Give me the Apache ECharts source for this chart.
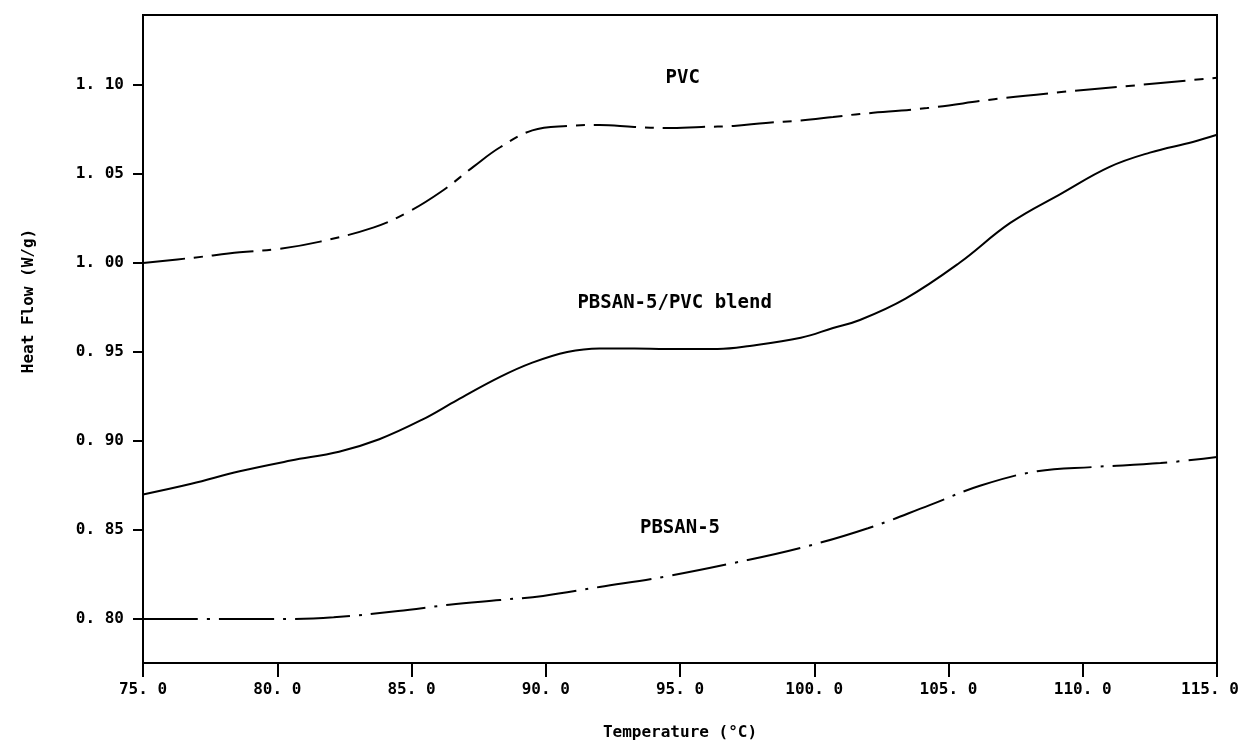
<!DOCTYPE html>
<html>
<head>
<meta charset="utf-8">
<script src="https://cdn.jsdelivr.net/npm/echarts@6/dist/echarts.min.js"></script>
<style>
  html, body { margin: 0; padding: 0; background: #fff; }
  #chart { width: 1242px; height: 743px; }
</style>
</head>
<body>
<div id="chart"></div>
<script>
// DSC traces, temperature in degC, heat flow in W/g
const pvcTemp = [75, 76.9, 78.6, 80.1, 81.6, 83.6, 84.8, 86.1, 87.3, 88.3, 89.5, 90.8, 92.0, 93.3, 94.5, 95.8, 97.0, 98.2, 99.5, 100.7, 101.7, 104.2, 106.7, 109.2, 111.7, 114.1, 115]
const pvcFlow = [1.000, 1.003, 1.006, 1.008, 1.012, 1.020, 1.028, 1.040, 1.054, 1.065, 1.0745, 1.077, 1.0775, 1.0764, 1.0758, 1.0764, 1.077, 1.0787, 1.080, 1.082, 1.0837, 1.087, 1.092, 1.096, 1.0994, 1.1028, 1.104]

const blendTemp = [75, 76.8, 78.6, 80.5, 82.3, 83.8, 85.4, 86.7, 88.3, 89.5, 90.8, 92.0, 93.3, 94.5, 96.4, 97.6, 99.5, 100.7, 101.7, 103.4, 105.4, 107.3, 109.2, 111.0, 112.5, 114.1, 115]
const blendFlow = [0.870, 0.876, 0.883, 0.889, 0.894, 0.901, 0.912, 0.923, 0.936, 0.944, 0.950, 0.952, 0.952, 0.9517, 0.9517, 0.9534, 0.958, 0.9635, 0.968, 0.980, 1.000, 1.0225, 1.039, 1.054, 1.062, 1.068, 1.072]

const pbsanTemp = [75, 80, 82.1, 84.5, 86.4, 88.3, 89.9, 92.0, 94.5, 97.0, 99.5, 102.0, 104.3, 106.2, 108.3, 110.4, 112.9, 115]
const pbsanFlow = [0.800, 0.800, 0.801, 0.8045, 0.808, 0.8107, 0.813, 0.818, 0.824, 0.8315, 0.840, 0.851, 0.864, 0.875, 0.883, 0.8854, 0.8876, 0.891]

// curve labels placed in data coordinates
const noteText = ['PVC', 'PBSAN-5/PVC blend', 'PBSAN-5']
const noteTemp = [95.1, 94.8, 95.0]
const noteFlow = [1.1039, 0.9775, 0.8511]

const yTicks = [0.80, 0.85, 0.90, 0.95, 1.00, 1.05, 1.10]

const FONT = 'DejaVu Sans Mono'

function pairs(xs, ys) {
  return xs.map((x, i) => [x, ys[i]])
}
// the plotter writes "1. 10" with a gap after the point
function plotterNum(v, digits) {
  return v.toFixed(digits).replace('.', '. ')
}

const tickFont = { fontFamily: FONT, fontWeight: 'bold', fontSize: 16, color: '#000' }

const chart = echarts.init(document.getElementById('chart'))
chart.setOption({
  animation: false,
  backgroundColor: '#fff',
  grid: {
    left: 143,
    right: 25,
    top: 15,
    bottom: 80,
    outerBoundsMode: 'none',
    containLabel: false,
    show: true,
    borderColor: '#000',
    borderWidth: 2
  },
  xAxis: {
    type: 'value',
    min: 75,
    max: 115,
    interval: 5,
    name: 'Temperature (°C)',
    nameLocation: 'middle',
    nameGap: 62,
    nameTextStyle: { fontFamily: FONT, fontWeight: 'bold', fontSize: 16, color: '#000' },
    axisLine: { lineStyle: { color: '#000', width: 2 } },
    axisTick: { inside: false, length: 14, lineStyle: { color: '#000', width: 2 } },
    axisLabel: Object.assign({
      margin: 19,
      // last label is nudged left so it stays on the page, like the original
      formatter: v => v === 115 ? '{e|' + plotterNum(v, 1) + '}' : plotterNum(v, 1),
      rich: { e: Object.assign({ padding: [0, 14, 0, 0] }, tickFont) }
    }, tickFont),
    splitLine: { show: false }
  },
  yAxis: {
    type: 'value',
    min: 0.7753,
    max: 1.1393,
    name: 'Heat Flow (W/g)',
    nameLocation: 'middle',
    nameGap: 106,
    // the title sits a little above the middle of the axis
    nameTextStyle: { fontFamily: FONT, fontWeight: 'bold', fontSize: 16, color: '#000', padding: [0, 0, 0, 76] },
    axisLine: { lineStyle: { color: '#000', width: 2 } },
    axisTick: { inside: false, length: 10, customValues: yTicks, lineStyle: { color: '#000', width: 2 } },
    axisLabel: Object.assign({
      margin: 19,
      customValues: yTicks,
      formatter: v => plotterNum(v, 2)
    }, tickFont),
    splitLine: { show: false }
  },
  series: [
    {
      name: 'PVC',
      type: 'line',
      smooth: 0.4,
      showSymbol: false,
      lineStyle: { color: '#000', width: 2, type: [42, 9, 9, 9] },
      data: pairs(pvcTemp, pvcFlow)
    },
    {
      name: 'PBSAN-5/PVC blend',
      type: 'line',
      smooth: 0.4,
      showSymbol: false,
      lineStyle: { color: '#000', width: 2 },
      data: pairs(blendTemp, blendFlow)
    },
    {
      name: 'PBSAN-5',
      type: 'line',
      smooth: 0.4,
      showSymbol: false,
      lineStyle: { color: '#000', width: 2, type: [55, 9, 3, 9] },
      data: pairs(pbsanTemp, pbsanFlow)
    },
    {
      name: 'notes',
      type: 'scatter',
      symbolSize: 0,
      silent: true,
      itemStyle: { opacity: 1, color: '#000' },
      label: {
        show: true,
        position: 'inside',
        fontFamily: FONT,
        fontWeight: 'bold',
        fontSize: 19,
        color: '#000',
        formatter: p => noteText[p.dataIndex]
      },
      data: pairs(noteTemp, noteFlow)
    }
  ]
})
</script>
</body>
</html>
